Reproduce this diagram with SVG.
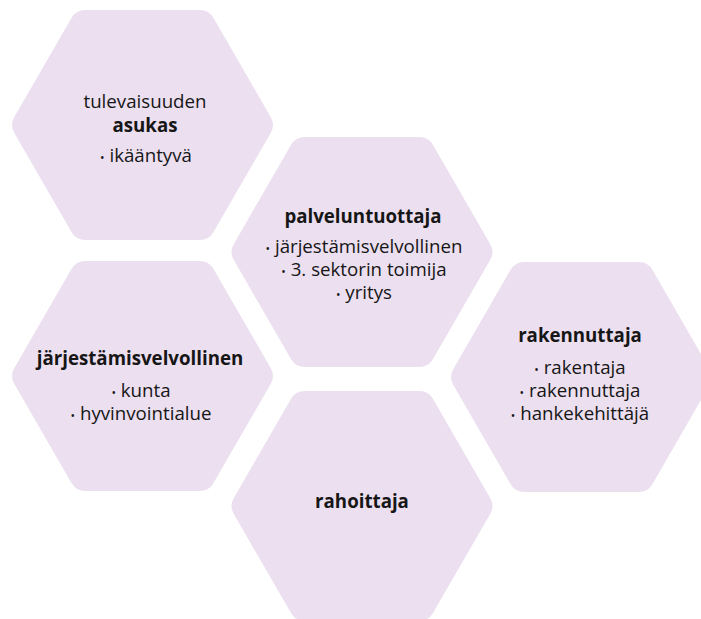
<svg xmlns="http://www.w3.org/2000/svg" width="701" height="619" viewBox="0 0 701 619">
  <style>
    .hex { fill: #ECDFF0; }
    text { font-family: "Open Sans", "Noto Sans", "DejaVu Sans", sans-serif; font-size: 18.7px; fill: #161616; text-anchor: middle; }
    .h { font-weight: 700; }
    .b { font-size: 12px; }
  </style>
  <defs>
    <!-- regular flat-topped hexagon, rounded corners, centred on the origin -->
    <path id="hexShape" d="M -57.16,-115 L 57.16,-115 A 16 16 0 0 1 71.02,-107 L 128.18,-8 A 16 16 0 0 1 128.18,8 L 71.02,107 A 16 16 0 0 1 57.16,115 L -57.16,115 A 16 16 0 0 1 -71.02,107 L -128.18,8 A 16 16 0 0 1 -128.18,-8 L -71.02,-107 A 16 16 0 0 1 -57.16,-115 Z"/>
  </defs>
  <rect width="701" height="619" fill="#FFFFFF"/>

  <g id="connectors"></g>

  <g id="asukas">
    <use href="#hexShape" class="hex" transform="translate(142.5,125)"/>
    <text x="145" y="108">tulevaisuuden</text>
    <text x="145" y="131.5" class="h">asukas</text>
    <text x="146" y="162"><tspan class="b">•</tspan> ikääntyvä</text>
  </g>

  <g id="palveluntuottaja">
    <use href="#hexShape" class="hex" transform="translate(362,252)"/>
    <text x="363" y="223" class="h">palveluntuottaja</text>
    <text x="364" y="253"><tspan class="b">•</tspan> järjestämisvelvollinen</text>
    <text x="364" y="276"><tspan class="b">•</tspan> 3. sektorin toimija</text>
    <text x="364" y="299"><tspan class="b">•</tspan> yritys</text>
  </g>

  <g id="jarjestamisvelvollinen">
    <use href="#hexShape" class="hex" transform="translate(142.5,376)"/>
    <text x="140" y="365" class="h">järjestämisvelvollinen</text>
    <text x="141" y="397"><tspan class="b">•</tspan> kunta</text>
    <text x="141" y="420"><tspan class="b">•</tspan> hyvinvointialue</text>
  </g>

  <g id="rakennuttaja">
    <use href="#hexShape" class="hex" transform="translate(581.5,377)"/>
    <text x="580" y="342" class="h">rakennuttaja</text>
    <text x="580" y="374"><tspan class="b">•</tspan> rakentaja</text>
    <text x="580" y="397"><tspan class="b">•</tspan> rakennuttaja</text>
    <text x="580" y="420"><tspan class="b">•</tspan> hankekehittäjä</text>
  </g>

  <g id="rahoittaja">
    <use href="#hexShape" class="hex" transform="translate(362,506)"/>
    <text x="362" y="508" class="h">rahoittaja</text>
  </g>
</svg>
